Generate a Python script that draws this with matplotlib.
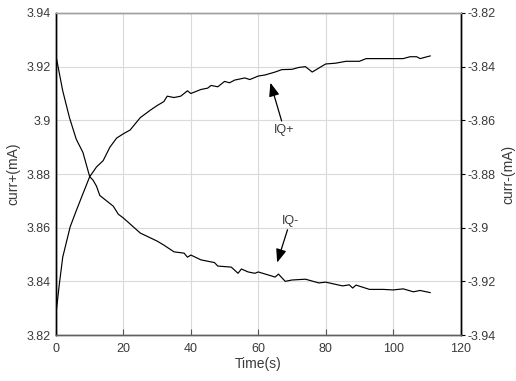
import numpy as np
import matplotlib
matplotlib.use("Agg")
import matplotlib.pyplot as plt

plt.rcParams['font.family'] = ['Liberation Sans', 'DejaVu Sans']

# IQ+ current, left axis (mA)
t_pos = [0, 1, 2, 4.2, 6.1, 8.1, 10, 12, 14, 16, 18, 20, 22, 25, 28, 30, 32, 33,
         35, 37, 39, 40, 43, 45, 46, 48, 50, 51.5, 53, 56, 57.5, 60, 62, 65, 67,
         70, 72, 74, 76, 78, 80, 83, 86, 90, 92, 95, 100, 103, 105, 107, 108, 111]
iq_pos = [3.828, 3.839, 3.849, 3.8603, 3.8666, 3.873, 3.879, 3.8826, 3.885, 3.890,
          3.8934, 3.895, 3.8964, 3.901, 3.9038, 3.9055, 3.907, 3.909, 3.9085,
          3.909, 3.911, 3.910, 3.9115, 3.912, 3.913, 3.9125, 3.9145, 3.914, 3.915,
          3.9158, 3.9152, 3.9165, 3.9169, 3.918, 3.9189, 3.919, 3.9197, 3.920,
          3.918, 3.9195, 3.921, 3.9213, 3.922, 3.922, 3.923, 3.923, 3.923, 3.923,
          3.9237, 3.9237, 3.923, 3.924]

# IQ- current, right axis (mA)
t_neg = [0, 2, 4, 6, 8, 10, 11, 12, 13, 15, 17, 18.5, 20, 25, 30, 32, 35, 38, 39,
         40, 43, 47, 48, 52, 54, 55, 57, 59, 60, 65, 66, 68, 70, 74, 78, 80, 85,
         87, 88, 89, 93, 97, 100, 103, 106, 108, 111]
iq_neg = [-3.836, -3.849, -3.859, -3.867, -3.872, -3.881, -3.8823, -3.8845, -3.888,
          -3.890, -3.892, -3.895, -3.8964, -3.902, -3.905, -3.9065, -3.909,
          -3.9095, -3.911, -3.9102, -3.912, -3.913, -3.9143, -3.9147, -3.917,
          -3.9154, -3.9165, -3.917, -3.9165, -3.9184, -3.9173, -3.920, -3.9195,
          -3.9192, -3.9206, -3.9203, -3.9217, -3.9213, -3.9225, -3.9214, -3.923,
          -3.923, -3.9232, -3.9228, -3.9239, -3.9234, -3.9242]

xticks = [0, 20, 40, 60, 80, 100, 120]
yticks_left = [3.82, 3.84, 3.86, 3.88, 3.9, 3.92, 3.94]
yticks_right = [-3.94, -3.92, -3.9, -3.88, -3.86, -3.84, -3.82]

txt = '#3a3a3a'
fig = plt.figure(figsize=(5.16, 3.81), dpi=100)
ax = fig.add_axes([0.1085, 0.1207, 0.7840, 0.8452])
ax2 = ax.twinx()

ax.plot(t_pos, iq_pos, color='black', lw=0.85)
ax2.plot(t_neg, iq_neg, color='black', lw=0.85)

ax.set_xlim(0, 120)
ax.set_ylim(3.82, 3.94)
ax2.set_ylim(-3.94, -3.82)
ax.set_xticks(xticks)
ax.set_xticklabels([str(v) for v in xticks])
ax.set_yticks(yticks_left)
ax.set_yticklabels(['%g' % v for v in yticks_left])
ax2.set_yticks(yticks_right)
ax2.set_yticklabels(['%g' % v for v in yticks_right])

ax.grid(True, color='#dadada', lw=0.8)
ax.set_axisbelow(True)

ax.tick_params(axis='x', direction='in', length=4, color='#555555',
               labelsize=9, labelcolor=txt, pad=6)
ax.tick_params(axis='y', direction='in', length=0, labelsize=9,
               labelcolor=txt, pad=4)
ax2.tick_params(axis='y', direction='out', length=3, color='black',
                labelsize=9, labelcolor=txt, pad=2)

for a in (ax, ax2):
    a.spines['left'].set_color('black')
    a.spines['right'].set_color('black')
    a.spines['top'].set_color('#a0a0a0')
    a.spines['bottom'].set_color('#606060')
    for s in a.spines.values():
        s.set_linewidth(1.0)

ax.set_xlabel('Time(s)', fontsize=10, color=txt, labelpad=1)
ax.set_ylabel('curr+(mA)', fontsize=10, color=txt, labelpad=4)
ax2.set_ylabel('curr-(mA)', fontsize=10, color=txt, labelpad=4)

arrow = dict(arrowstyle='-|>,head_length=0.9,head_width=0.35', color='black',
             lw=0.9, shrinkA=0, shrinkB=0)
ax.annotate('IQ+', xy=(63.6, 3.914), xytext=(67.7, 3.8965), fontsize=9,
            color=txt, ha='center', va='center', arrowprops=arrow)
ax2.annotate('IQ-', xy=(65.6, -3.913), xytext=(69.5, -3.8975), fontsize=9,
             color=txt, ha='center', va='center', arrowprops=arrow)

fig.savefig('out.png', dpi=100)
